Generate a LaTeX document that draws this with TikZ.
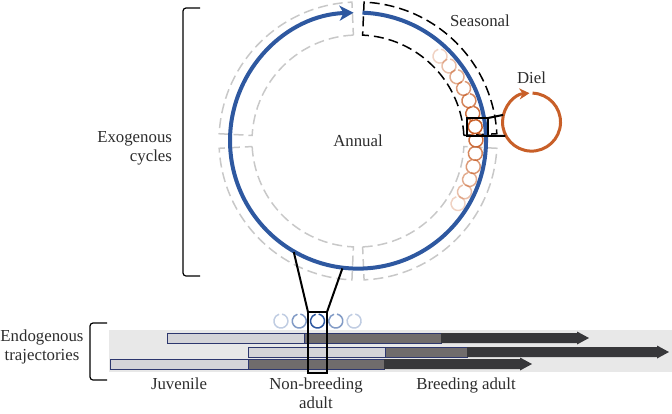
\documentclass[tikz,border=0pt]{standalone}
\usepackage{fontspec}
\setmainfont{Liberation Serif}
\usepackage{tikz}
\usetikzlibrary{arrows.meta,positioning,calc}
\definecolor{annualblue}{RGB}{46,88,160}
\definecolor{dielorange}{RGB}{200,95,40}
\definecolor{sectorgray}{RGB}{200,200,200}
\definecolor{bandgray}{RGB}{232,232,232}
\definecolor{juvgray}{RGB}{212,212,216}
\definecolor{nbgray}{RGB}{112,108,108}
\definecolor{adultgray}{RGB}{55,55,58}
\definecolor{barnavy}{RGB}{45,55,110}
\definecolor{textgray}{RGB}{45,45,45}

\begin{document}
\begin{tikzpicture}[
        x=0.5pt, y=0.5pt,
        every node/.style={font=\rmfamily\fontsize{8.4}{9.4}\selectfont, text=textgray},
        ring/.style={circle, inner sep=0pt, minimum size=#1},
        sector/.style={draw=sectorgray, line width=0.75pt, dash pattern=on 5pt off 2.5pt},
        seasonal/.style={draw=black, line width=0.75pt, dash pattern=on 5pt off 2.5pt},
        lensbox/.style={rectangle, draw=black, line width=1pt, inner sep=0pt, outer sep=0pt},
        lensline/.style={draw=black, line width=1pt},
        bar/.style={rectangle, draw=barnavy, line width=0.4pt, fill=#1,
            inner sep=0pt, outer sep=0pt, minimum height=5pt},
        bracket/.style={draw=black, line width=0.6pt, rounded corners=1.5pt}
    ]
        \useasboundingbox (0,0) rectangle (672,-413);

        % exogenous cycles
        \coordinate (c) at (358,-141);
        \foreach \a/\b in {92.5/177, 183/267.5, 272.5/357}
            \draw[sector] ($(c)+(\a:106)$) arc[start angle=\a, end angle=\b, radius=106]
                -- ($(c)+(\b:139)$) arc[start angle=\b, end angle=\a, radius=139] -- cycle;
        \draw[seasonal] ($(c)+(3:106)$) arc[start angle=3, end angle=87.5, radius=106]
            -- ($(c)+(87.5:139)$) arc[start angle=87.5, end angle=3, radius=139] -- cycle;

        \foreach \k in {-6,...,6} {
            \pgfmathsetmacro\t{7-6.5*\k}
            \pgfmathsetmacro\op{1-0.12*abs(\k)}
            \draw[dielorange, line width=0.75pt, opacity=\op]
                ($(c)+(\t:118)$) ++(80:7) arc[start angle=80, end angle=-255, radius=7];
        }

        \node[ring=128pt] (annual) at (c) {Annual};
        \draw[annualblue, line width=2pt, -{Stealth[length=7pt, width=7.5pt, inset=2pt]}]
            (annual.88) arc[start angle=88, end angle=-268, radius=128];

        \node[ring=29pt] (diel) at (531.5,-122.5) {};
        \draw[dielorange, line width=1.5pt, -{Stealth[length=5pt, width=5.5pt, inset=1.5pt]}]
            (diel.88) arc[start angle=88, end angle=-266, radius=29];

        \node[lensbox, minimum width=10.5pt, minimum height=9pt] (dielbox) at (477.5,-127) {};
        \draw[lensline] (dielbox.north east) -- (diel.165);
        \draw[lensline] (dielbox.south east) -- (diel.207);

        \node at (480,-21) {Seasonal};
        \node[above=1pt of diel] {Diel};

        \draw[bracket] (200,-8) -- (183,-8) -- (183,-276) -- (200,-276);
        \node[align=right, anchor=east] at (179,-148) {Exogenous\\cycles};

        % endogenous trajectories
        \fill[bandgray] (109,-330) rectangle (672,-372);

        \node[bar=juvgray, minimum width=68.5pt, anchor=west] (juv1) at (167,-338) {};
        \node[bar=nbgray, minimum width=68.5pt, right=0pt of juv1] (nb1) {};
        \node[bar=juvgray, minimum width=68.5pt, anchor=west] (juv2) at (248,-352) {};
        \node[bar=nbgray, minimum width=41pt, right=0pt of juv2] (nb2) {};
        \node[bar=juvgray, minimum width=69pt, anchor=west] (juv3) at (110,-364) {};
        \node[bar=nbgray, minimum width=68pt, right=0pt of juv3] (nb3) {};
        \foreach \n/\len in {1/136, 2/190, 3/136}
            \fill[adultgray] (nb\n.north east) -- ++(\len,0) -- ++(0,1.5) -- ++(12,-6.5)
                -- ++(-12,-6.5) -- ++(0,1.5) -- (nb\n.south east) -- cycle;

        \node[lensbox, minimum width=9.5pt, minimum height=30.5pt] (nbbox) at (317.5,-342.5) {};
        \draw[lensline] (nbbox.north west) -- (annual.240.6);
        \draw[lensline] (nbbox.north east) -- (annual.263.4);
        \foreach \k/\op in {-2/0.3, -1/0.6, 0/1, 1/0.6, 2/0.3}
            \draw[annualblue, line width=0.75pt, opacity=\op]
                ($(nbbox.north)+(18.3*\k,-9)$) ++(80:7) arc[start angle=80, end angle=-255, radius=7];

        \draw[bracket] (107,-323) -- (90,-323) -- (90,-380) -- (107,-380);
        \node[align=center] at (42,-347) {Endogenous\\trajectories};

        \node[below=1pt of juv3] {Juvenile};
        \node[align=center] at (316,-393) {Non-breeding\\adult};
        \node at (466,-385) {Breeding adult};
    \end{tikzpicture}
\end{document}
